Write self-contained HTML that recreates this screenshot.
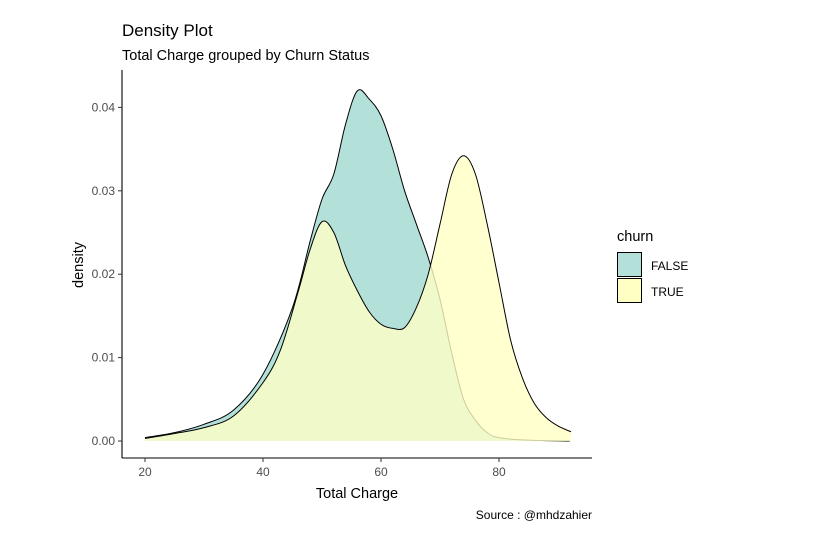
<!DOCTYPE html>
<html><head><meta charset="utf-8"><style>
body{margin:0;background:#fff;font-family:"Liberation Sans",Arial,sans-serif}
svg text{font-family:"Liberation Sans",Arial,sans-serif}
</style></head><body>
<svg id="c" width="840" height="548" xmlns="http://www.w3.org/2000/svg">
<rect width="840" height="548" fill="#fff"/>
<text x="122" y="36" font-size="17" fill="#000">Density Plot</text>
<text x="122" y="60" font-size="14.5" fill="#000">Total Charge grouped by Churn Status</text>
<g id="plot"></g>
<line x1="122" y1="70" x2="122" y2="458" stroke="#000" stroke-width="1.1"/>
<line x1="122" y1="458" x2="592" y2="458" stroke="#000" stroke-width="1.1"/>
<g id="ticks"></g>
<text x="357" y="498" font-size="14.5" text-anchor="middle" fill="#000">Total Charge</text>
<text transform="translate(83,265) rotate(-90)" font-size="14.5" text-anchor="middle" fill="#000">density</text>
<text x="592" y="519" font-size="12" text-anchor="end" fill="#000">Source : @mhdzahier</text>
<g>
<text x="617" y="241" font-size="14.5" fill="#000">churn</text>
<rect x="617.5" y="252.5" width="24" height="24" fill="#a6dcd3" fill-opacity="0.85" stroke="#000"/>
<rect x="617.5" y="278.5" width="24" height="24" fill="#ffffc4" stroke="#000"/>
<text x="651" y="270" font-size="12" fill="#000">FALSE</text>
<text x="651" y="296" font-size="12" fill="#000">TRUE</text>
</g>
</svg>
<script>
const xFalse=[20,25,30,35,40,45,48,50,52,54,56,58,60,62,64,66,68,70,72,74,76,78,80,85,92];
const dFalse=[0.0004,0.001,0.002,0.0037,0.008,0.016,0.024,0.029,0.032,0.038,0.042,0.041,0.039,0.035,0.030,0.026,0.022,0.017,0.0105,0.005,0.0025,0.001,0.0004,0.0001,0];
const xTrue=[20,25,30,35,40,43,46,48,50,52,54,56,58,60,62,64,66,68,70,72,74,76,78,80,82,84,86,88,90,92.2];
const dTrue=[0.0003,0.0009,0.0016,0.003,0.007,0.011,0.018,0.023,0.0263,0.025,0.021,0.018,0.0155,0.014,0.0135,0.0136,0.016,0.020,0.026,0.032,0.0342,0.032,0.026,0.019,0.012,0.0075,0.0045,0.0028,0.0018,0.0011];
const xTicks=[20,40,60,80];
const yTicks=[0,0.01,0.02,0.03,0.04];
const yTickLabels=["0.00","0.01","0.02","0.03","0.04"];
const sx=v=>145+(v-20)*5.9;
const sy=v=>441-v*8340;
const NS="http://www.w3.org/2000/svg";
function smooth(xs,ys){
  const p=xs.map((x,i)=>[sx(x),sy(ys[i])]);
  let d="M"+p[0][0]+","+p[0][1];
  for(let i=0;i<p.length-1;i++){
    const p0=p[Math.max(0,i-1)],p1=p[i],p2=p[i+1],p3=p[Math.min(p.length-1,i+2)];
    const c1=[p1[0]+(p2[0]-p0[0])/6,p1[1]+(p2[1]-p0[1])/6];
    const c2=[p2[0]-(p3[0]-p1[0])/6,p2[1]-(p3[1]-p1[1])/6];
    d+=` C${c1[0]},${c1[1]} ${c2[0]},${c2[1]} ${p2[0]},${p2[1]}`;
  }
  return d;
}
const g=document.getElementById('plot');
function series(xs,ys,fill,op,name){
  const line=smooth(xs,ys);
  const f=document.createElementNS(NS,'path');
  f.setAttribute('d',line+` L${sx(xs[xs.length-1])},${sy(0)} L${sx(xs[0])},${sy(0)} Z`);
  f.setAttribute('fill',fill);f.setAttribute('fill-opacity',op);
  
  
  g.appendChild(f);
  const s=document.createElementNS(NS,'path');
  s.setAttribute('d',line);s.setAttribute('fill','none');s.setAttribute('stroke','#000');s.setAttribute('stroke-width','1');
  
  
  g.appendChild(s);
}
series(xFalse,dFalse,'#a6dcd3',0.85,'density-false');
series(xTrue,dTrue,'#ffffc4',0.8,'density-true');
const t=document.getElementById('ticks');
xTicks.forEach(v=>{
  const l=document.createElementNS(NS,'line');
  l.setAttribute('x1',sx(v));l.setAttribute('x2',sx(v));l.setAttribute('y1',458);l.setAttribute('y2',462);l.setAttribute('stroke','#333');
  
  
  t.appendChild(l);
  const tx=document.createElementNS(NS,'text');
  tx.setAttribute('x',sx(v));tx.setAttribute('y',476);tx.setAttribute('font-size','12');tx.setAttribute('text-anchor','middle');tx.setAttribute('fill','#4d4d4d');
  tx.textContent=v;
  
  
  t.appendChild(tx);
});
yTicks.forEach((v,i)=>{
  const l=document.createElementNS(NS,'line');
  l.setAttribute('x1',118);l.setAttribute('x2',122);l.setAttribute('y1',sy(v));l.setAttribute('y2',sy(v));l.setAttribute('stroke','#333');
  
  
  t.appendChild(l);
  const tx=document.createElementNS(NS,'text');
  tx.setAttribute('x',115);tx.setAttribute('y',sy(v)+4);tx.setAttribute('font-size','12');tx.setAttribute('text-anchor','end');tx.setAttribute('fill','#4d4d4d');
  tx.textContent=yTickLabels[i];
  
  
  t.appendChild(tx);
});
</script>
</body></html>
